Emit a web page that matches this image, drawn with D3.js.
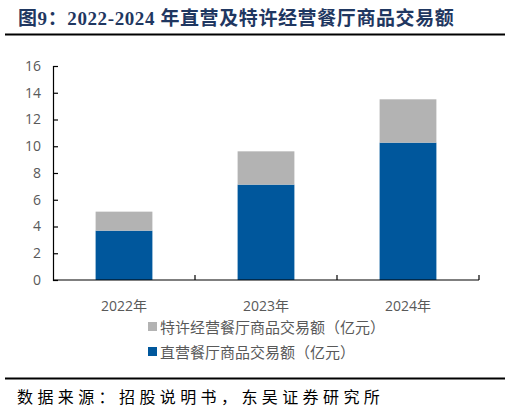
<!DOCTYPE html>
<html>
<head>
<meta charset="utf-8">
<script src="https://cdn.jsdelivr.net/npm/d3@7"></script>
<style>
  html, body { margin: 0; padding: 0; background: #fff; }
</style>
</head>
<body>
<div id="chart"></div>
<script>
// Data (亿元)
const years = ["2022年", "2023年", "2024年"];
const directValues = [3.69, 7.13, 10.27];
const franchiseValues = [1.42, 2.49, 3.24];
const yTicks = [0, 2, 4, 6, 8, 10, 12, 14, 16];
const seriesNames = ["特许经营餐厅商品交易额（亿元）", "直营餐厅商品交易额（亿元）"];

const width = 510;
const height = 413;
const marginLeft = 53;
const marginRight = 31;
const plotTop = 66;
const plotBottom = 280;

const blue = "#00579c";
const grey = "#b3b3b3";
const textGrey = "#595959";
const titleFont = "'Liberation Serif', 'Noto Sans CJK SC', serif";
const bodyFont = "'Open Sans', 'Noto Sans CJK SC', sans-serif";

const svg = d3.select("#chart")
  .append("svg")
  .attr("width", width)
  .attr("height", height)
  .attr("viewBox", [0, 0, width, height]);

svg.append("rect").attr("width", width).attr("height", height).attr("fill", "#fff");

// Title
svg.append("text")
  .attr("x", 18)
  .attr("y", 25)
  .attr("fill", "#1f3761")
  .style("font-family", titleFont)
  .style("font-weight", "bold")
  .style("font-size", "19px")
  .style("letter-spacing", "0.6px")
  .text("图9：2022-2024 年直营及特许经营餐厅商品交易额");

svg.append("line")
  .attr("x1", 5).attr("x2", 505)
  .attr("y1", 34.5).attr("y2", 34.5)
  .attr("stroke", "#000").attr("stroke-width", 2);

// Scales
const x = d3.scaleBand()
  .domain(years)
  .range([marginLeft, width - marginRight])
  .paddingInner(0.6)
  .paddingOuter(0.3);

const y = d3.scaleLinear().domain([0, 16]).range([plotBottom, plotTop]);

// Stack
const rows = years.map((yr, i) => ({ year: yr, direct: directValues[i], franchise: franchiseValues[i] }));
const stacked = d3.stack().keys(["direct", "franchise"])(rows);
const colors = { direct: blue, franchise: grey };

svg.append("g")
  .selectAll("g")
  .data(stacked)
  .join("g")
  .attr("fill", (d) => colors[d.key])
  .selectAll("rect")
  .data((d) => d)
  .join("rect")
  .attr("x", (d) => x(d.data.year))
  .attr("width", x.bandwidth())
  .attr("y", (d) => y(d[1]))
  .attr("height", (d) => y(d[0]) - y(d[1]));

// Y axis
const yAxis = d3.axisLeft(y).tickValues(yTicks).tickSize(-5).tickPadding(12);
const yg = svg.append("g")
  .attr("transform", `translate(${marginLeft},0)`)
  .call(yAxis);
yg.select(".domain").attr("stroke", "#000").attr("stroke-width", 1.2);
yg.selectAll(".tick line").attr("stroke", "#000").attr("stroke-width", 1.2);
yg.selectAll(".tick text")
  .attr("fill", textGrey)
  .style("font-family", bodyFont)
  .style("font-size", "14px");

// X axis: ticks at band boundaries, pointing up
const step = x.step();
const xStart = marginLeft;
const xEnd = width - marginRight;
const xg = svg.append("g");
xg.append("line")
  .attr("x1", xStart).attr("x2", xEnd)
  .attr("y1", plotBottom).attr("y2", plotBottom)
  .attr("stroke", "#000").attr("stroke-width", 1.2);
xg.selectAll(".xtick")
  .data(years)
  .join("line")
  .attr("class", "xtick")
  .attr("x1", (d) => x(d) + x.bandwidth() / 2 + step / 2)
  .attr("x2", (d) => x(d) + x.bandwidth() / 2 + step / 2)
  .attr("y1", plotBottom).attr("y2", plotBottom - 5)
  .attr("stroke", "#000").attr("stroke-width", 1.2);
xg.selectAll(".xlabel")
  .data(years)
  .join("text")
  .attr("class", "xlabel")
  .attr("x", (d) => x(d) + x.bandwidth() / 2)
  .attr("y", 311)
  .attr("text-anchor", "middle")
  .attr("fill", textGrey)
  .style("font-family", bodyFont)
  .style("font-size", "14px")
  .text((d) => d);

// Legend
const legend = svg.append("g");
const legendItems = [
  { name: seriesNames[0], color: grey },
  { name: seriesNames[1], color: blue }
];
const li = legend.selectAll("g")
  .data(legendItems)
  .join("g")
  .attr("transform", (d, i) => `translate(148,${327 + i * 25})`);
li.append("rect")
  .attr("x", 0).attr("y", -5)
  .attr("width", 9).attr("height", 9)
  .attr("fill", (d) => d.color);
li.append("text")
  .attr("x", 12)
  .attr("y", 0)
  .attr("dominant-baseline", "central")
  .attr("fill", textGrey)
  .style("font-family", bodyFont)
  .style("font-size", "15px")
  .text((d) => d.name);

// Footer
svg.append("line")
  .attr("x1", 5).attr("x2", 505)
  .attr("y1", 378.5).attr("y2", 378.5)
  .attr("stroke", "#000").attr("stroke-width", 2);

svg.append("text")
  .attr("x", 17)
  .attr("y", 403)
  .attr("fill", "#000")
  .style("font-family", titleFont)
  .style("font-size", "16px")
  .style("letter-spacing", "4.4px")
  .text("数据来源：招股说明书，东吴证券研究所");
</script>
</body>
</html>
